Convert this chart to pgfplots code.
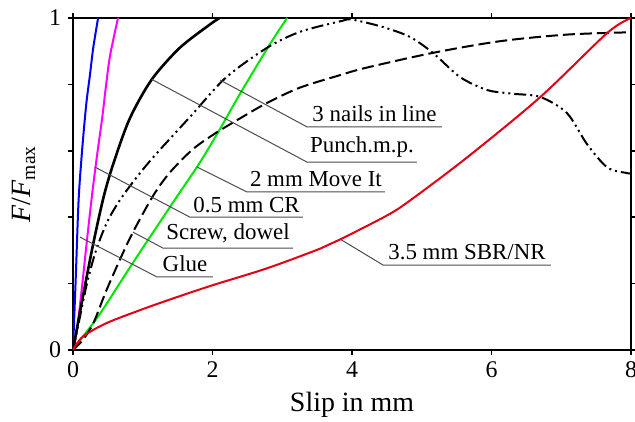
\documentclass[border=0pt]{standalone}
\usepackage{fontspec}
\setmainfont{Liberation Serif}
\usepackage{pgfplots}
\pgfplotsset{compat=1.18}
\definecolor{cblue}{RGB}{0,0,255}
\definecolor{cmag}{RGB}{255,0,255}
\definecolor{cgreen}{RGB}{0,230,0}
\definecolor{cred}{RGB}{225,0,20}
\begin{document}
\begin{tikzpicture}
\begin{axis}[
    scale only axis,
    width=279bp, height=166bp,
    xmin=0, xmax=8, ymin=0, ymax=1,
    xtick={0,2,4,6,8},
    ytick={0,0.2,0.4,0.6,0.8,1},
    yticklabels={0,,,,,1},
    tick align=outside, tick pos=both,
    major tick length=2.5bp,
    axis line style={line width=1bp},
    tick style={line width=0.8bp, black},
    ticklabel style={font=\fontsize{12}{14}\selectfont},
    /pgf/number format/assume math mode=true,
    xlabel={Slip in mm},
    ylabel={\textit{F}/\textit{F}\textsubscript{max}},
    label style={font=\fontsize{14}{16}\selectfont},
    every axis plot/.append style={line width=1bp},
]
% Glue
\addplot[cblue, smooth] coordinates {(0,0)(0.04,0.22)(0.08,0.45)(0.13,0.6)(0.19,0.74)(0.244,0.83)(0.29,0.91)(0.36,1.0)};
% 0.5 mm CR
\addplot[cmag, smooth] coordinates {(0,0)(0.057,0.06)(0.129,0.19)(0.2,0.33)(0.272,0.465)(0.344,0.585)(0.416,0.695)(0.47,0.79)(0.53,0.885)(0.645,1.0)};
% Punch.m.p.
\addplot[black, smooth, line width=1.3bp] coordinates {(0,0)(0.15,0.17)(0.3,0.33)(0.45,0.47)(0.6,0.575)(0.82,0.70)(1.13,0.815)(1.53,0.91)(1.96,0.98)(2.1,1.0)};
% 2 mm Move It
\addplot[cgreen, smooth] coordinates {(0,0)(0.14,0.04)(0.39,0.11)(0.82,0.25)(1.15,0.355)(1.5,0.465)(1.82,0.565)(2.1,0.663)(2.39,0.77)(2.82,0.92)(3.07,1.0)};
% Screw, dowel
\addplot[black, smooth, dash pattern=on 6bp off 2.5bp] coordinates {(0,0)(0.14,0.03)(0.29,0.08)(0.47,0.175)(0.67,0.271)(0.86,0.355)(1.15,0.465)(1.39,0.535)(1.72,0.605)(2.05,0.654)(2.39,0.697)(2.78,0.744)(3.25,0.79)(3.83,0.828)(4.2,0.85)(5.16,0.895)(6.12,0.93)(7.08,0.95)(8,0.957)};
% 3 nails in line
\addplot[black, smooth, dash pattern=on 6bp off 2bp on 1bp off 2bp on 1bp off 2bp] coordinates {(0,0)(0.1,0.1)(0.2,0.2)(0.33,0.3)(0.5,0.39)(0.7,0.46)(0.95,0.53)(1.19,0.59)(1.69,0.705)(2.19,0.82)(2.78,0.91)(3.25,0.958)(3.83,0.99)(4.0,0.995)(4.44,0.973)(4.83,0.943)(5.16,0.895)(5.55,0.822)(5.94,0.783)(6.3,0.772)(6.7,0.762)(7.08,0.714)(7.37,0.62)(7.66,0.55)(7.94,0.533)(8,0.532)};
% 3.5 mm SBR/NR
\addplot[cred, smooth] coordinates {(0,0)(0.14,0.04)(0.47,0.08)(0.96,0.12)(1.43,0.155)(2.0,0.195)(2.78,0.246)(3.54,0.305)(3.83,0.333)(4.5,0.405)(4.83,0.45)(5.65,0.58)(6.7,0.762)(7.66,0.955)(8,1.0)};

\coordinate (sw) at (axis cs:0,0);
\coordinate (ne) at (axis cs:8,1);

% callouts
\begin{scope}[gray!60!black, line width=0.5bp,
    every node/.style={black, font=\fontsize{11.5}{13}\selectfont, above=-1.2pt}]
\draw (axis cs:2.11,0.813) -- (axis cs:3.355,0.672) -- (axis cs:5.29,0.672)
    node[midway] {3 nails in line};
\draw (axis cs:1.13,0.815) -- (axis cs:3.355,0.566) -- (axis cs:4.93,0.566)
    node[midway] {Punch.m.p.};
\draw (axis cs:1.78,0.551) -- (axis cs:2.495,0.476) -- (axis cs:4.47,0.476)
    node[midway] {2 mm Move It};
\draw (axis cs:0.315,0.551) -- (axis cs:1.677,0.40) -- (axis cs:3.30,0.40)
    node[midway] {0.5 mm CR};
\draw (axis cs:0.86,0.355) -- (axis cs:1.29,0.307) -- (axis cs:3.155,0.307)
    node[midway] {Screw, dowel};
\draw (axis cs:0.1,0.34) -- (axis cs:1.204,0.22) -- (axis cs:2.007,0.22)
    node[midway] {Glue};
\draw (axis cs:3.83,0.334) -- (axis cs:4.444,0.256) -- (axis cs:6.853,0.256)
    node[midway] {3.5 mm SBR/NR};
\end{scope}
\end{axis}
\pgfresetboundingbox
\path[use as bounding box] ([xshift=-36.5bp, yshift=-36bp]sw) rectangle ([xshift=2bp, yshift=9bp]ne);
\end{tikzpicture}
\end{document}
